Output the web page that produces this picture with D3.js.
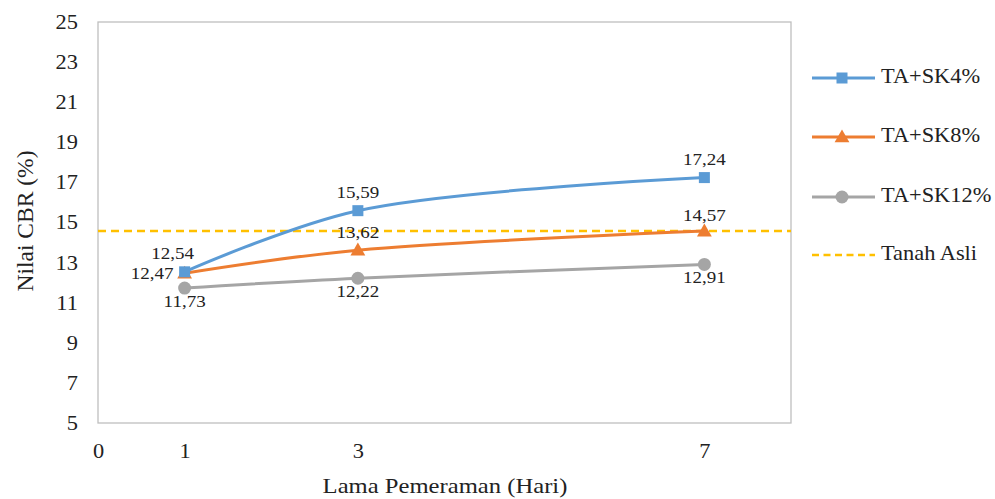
<!DOCTYPE html>
<html><head><meta charset="utf-8">
<script src="https://cdn.jsdelivr.net/npm/d3@7"></script>
<style>body{margin:0;background:#fff;} svg text{font-family:"Liberation Serif","Times New Roman",serif !important;}</style>
</head><body>
<svg id="c" width="995" height="499"></svg>
<script>
const days = [1, 3, 7];
const sk4 = [12.54, 15.59, 17.24];
const sk8 = [12.47, 13.62, 14.57];
const sk12 = [11.73, 12.22, 12.91];
const tanahAsli = 14.57;
const xTicks = [0, 1, 3, 7];
const yTicks = [5, 7, 9, 11, 13, 15, 17, 19, 21, 23, 25];
const seriesNames = ["TA+SK4%", "TA+SK8%", "TA+SK12%", "Tanah Asli"];

const SX = 1.12; // horizontal stretch of the reference text
const svg = d3.select("#c");
const L = 98, R = 791, T = 22, B = 423;
const x = d3.scaleLinear().domain([0, 8]).range([L, R]);
const y = d3.scaleLinear().domain([5, 25]).range([B, T]);

svg.append("rect").attr("x", L).attr("y", T).attr("width", R - L).attr("height", B - T)
  .attr("fill", "none").attr("stroke", "#bfbfbf").attr("stroke-width", 1.3);

const yAx = svg.append("g").attr("transform", `translate(${L},0)`)
  .call(d3.axisLeft(y).tickValues(yTicks).tickSize(0).tickPadding(18));
yAx.select(".domain").remove();
yAx.selectAll("text").attr("font-size", 20).attr("fill", "#222").attr("transform", `scale(${SX},1)`);

const xAx = svg.append("g").attr("transform", `translate(0,${B})`)
  .call(d3.axisBottom(x).tickValues(xTicks).tickSize(0).tickPadding(20.5));
xAx.select(".domain").remove();
xAx.selectAll("text").attr("font-size", 20).attr("fill", "#222").attr("transform", `scale(${SX},1)`);

function txt(tx, ty, t, size, anchor) {
  return svg.append("text").attr("transform", `translate(${tx},${ty}) scale(${SX},1)`)
    .attr("text-anchor", anchor || "middle").attr("font-size", size).attr("fill", "#222").text(t);
}
txt(445, 493, "Lama Pemeraman (Hari)", 22);
svg.append("text").attr("transform", "translate(33,221) rotate(-90)").attr("text-anchor", "middle")
  .attr("font-size", 23.5).attr("fill", "#222").text("Nilai CBR (%)");

svg.append("line").attr("x1", L).attr("x2", R).attr("y1", y(tanahAsli)).attr("y2", y(tanahAsli))
  .attr("stroke", "#FFC000").attr("stroke-width", 2.5).attr("stroke-dasharray", "8,5");

const line = d3.line().x((d, i) => x(days[i])).y(d => y(d)).curve(d3.curveCatmullRom.alpha(0.5));
const series = [
  {vals: sk12, color: "#A5A5A5", shape: "circle"},
  {vals: sk8, color: "#ED7D31", shape: "triangle"},
  {vals: sk4, color: "#5B9BD5", shape: "square"}
];
function marker(g, shape, cx, cy, color) {
  if (shape === "square") g.append("rect").attr("x", cx - 5.5).attr("y", cy - 5.5).attr("width", 11).attr("height", 11).attr("fill", color);
  else if (shape === "triangle") g.append("path").attr("d", d3.symbol(d3.symbolTriangle, 95)()).attr("transform", `translate(${cx},${cy + 1})`).attr("fill", color);
  else g.append("circle").attr("cx", cx).attr("cy", cy).attr("r", 6.5).attr("fill", color);
}
series.forEach(s => {
  svg.append("path").attr("d", line(s.vals)).attr("fill", "none").attr("stroke", s.color).attr("stroke-width", 3);
  s.vals.forEach((v, i) => marker(svg, s.shape, x(days[i]), y(v), s.color));
});

const fmt = v => v.toFixed(2).replace(".", ",");
const LS = 17;
sk4.forEach((v, i) => txt(x(days[i]) - (i === 0 ? 12 : 0), y(v) - 13, fmt(v), LS));
txt(x(days[0]) - 11, y(sk8[0]) + 6, fmt(sk8[0]), LS, "end");
txt(x(days[1]), y(sk8[1]) - 12, fmt(sk8[1]), LS);
txt(x(days[2]), y(sk8[2]) - 10, fmt(sk8[2]), LS);
sk12.forEach((v, i) => txt(x(days[i]), y(v) + 19, fmt(v), LS));

const legY = [78, 137, 197, 255];
const legColors = ["#5B9BD5", "#ED7D31", "#A5A5A5", "#FFC000"];
const legShapes = ["square", "triangle", "circle", null];
seriesNames.forEach((n, i) => {
  const g = svg.append("g");
  const ln = g.append("line").attr("x1", 812).attr("x2", 875).attr("y1", legY[i]).attr("y2", legY[i])
    .attr("stroke", legColors[i]).attr("stroke-width", i === 3 ? 2.5 : 3);
  if (i === 3) ln.attr("stroke-dasharray", "7,4.5");
  if (legShapes[i]) marker(g, legShapes[i], 842, legY[i], legColors[i]);
  txt(881, legY[i] + 5, n, 20, "start");
});
</script>
</body></html>
